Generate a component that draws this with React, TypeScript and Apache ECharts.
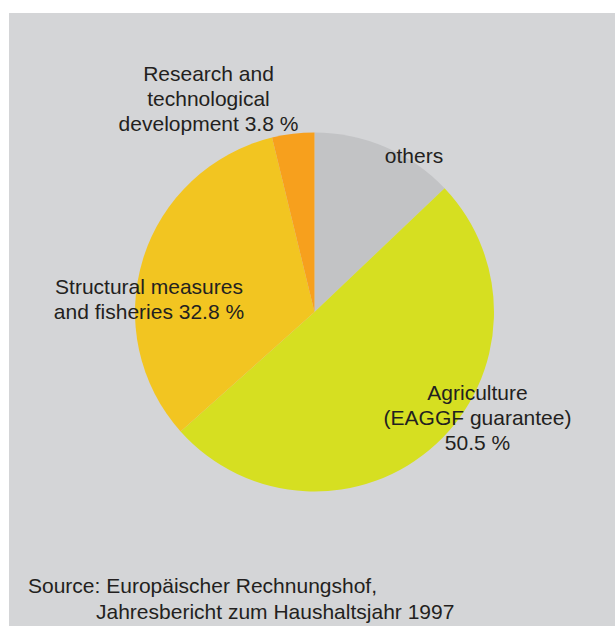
import React, { useEffect, useRef } from "react";
import * as echarts from "echarts";

const categories = [
  "others",
  "Agriculture\n(EAGGF guarantee)",
  "Structural measures\nand fisheries",
  "Research and\ntechnological\ndevelopment",
];
const values = [12.9, 50.5, 32.8, 3.8];
const labelTexts = [
  "others",
  "Agriculture\n(EAGGF guarantee)\n50.5 %",
  "Structural measures\nand fisheries 32.8 %",
  "Research and\ntechnological\ndevelopment 3.8 %",
];
const colors = ["#c2c3c5", "#d6df21", "#f2c521", "#f7a01d"];
const labelPositions = [
  [414, 155],
  [477.5, 417],
  [149, 299],
  [208.5, 98],
];
const sourceLines = [
  "Source: Europäischer Rechnungshof,",
  "Jahresbericht zum Haushaltsjahr 1997",
];

const FONT = "'Liberation Sans', Arial, Helvetica, sans-serif";
const TEXT_COLOR = "#231f20";

export default function App() {
  const ref = useRef<HTMLDivElement>(null);
  useEffect(() => {
    if (!ref.current) return;
    const chart = echarts.init(ref.current, null, { renderer: "svg" });
    chart.setOption({
      animation: false,
      backgroundColor: "#ffffff",
      graphic: [
        {
          type: "rect",
          z: -10,
          silent: true,
          shape: { x: 9, y: 13, width: 606, height: 613 },
          style: { fill: "#d4d5d7" },
        },
        {
          type: "text",
          x: 28,
          y: 585,
          style: {
            text: sourceLines[0],
            fill: TEXT_COLOR,
            font: `21px ${FONT}`,
            textAlign: "left",
            textVerticalAlign: "middle",
          },
        },
        {
          type: "text",
          x: 96,
          y: 611,
          style: {
            text: sourceLines[1],
            fill: TEXT_COLOR,
            font: `21px ${FONT}`,
            textAlign: "left",
            textVerticalAlign: "middle",
          },
        },
      ],
      series: [
        {
          type: "pie",
          center: [314.5, 312],
          radius: [0, 179.5],
          startAngle: 90,
          clockwise: true,
          avoidLabelOverlap: false,
          labelLine: { show: false },
          itemStyle: { borderWidth: 0 },
          emphasis: { disabled: true },
          label: {
            show: true,
            color: TEXT_COLOR,
            fontFamily: FONT,
            fontSize: 21,
            lineHeight: 25,
            align: "center",
          },
          labelLayout: (params: any) => {
            const p = labelPositions[params.dataIndex];
            return {
              x: p[0],
              y: p[1],
              align: "center",
              verticalAlign: "middle",
            };
          },
          data: categories.map((name, i) => ({
            name,
            value: values[i],
            itemStyle: { color: colors[i] },
            label: { formatter: labelTexts[i] },
          })),
        },
      ],
    });
    return () => chart.dispose();
  }, []);
  return (
    <div
      ref={ref}
      style={{ position: "absolute", left: 0, top: 0, width: 615, height: 626 }}
    />
  );
}
